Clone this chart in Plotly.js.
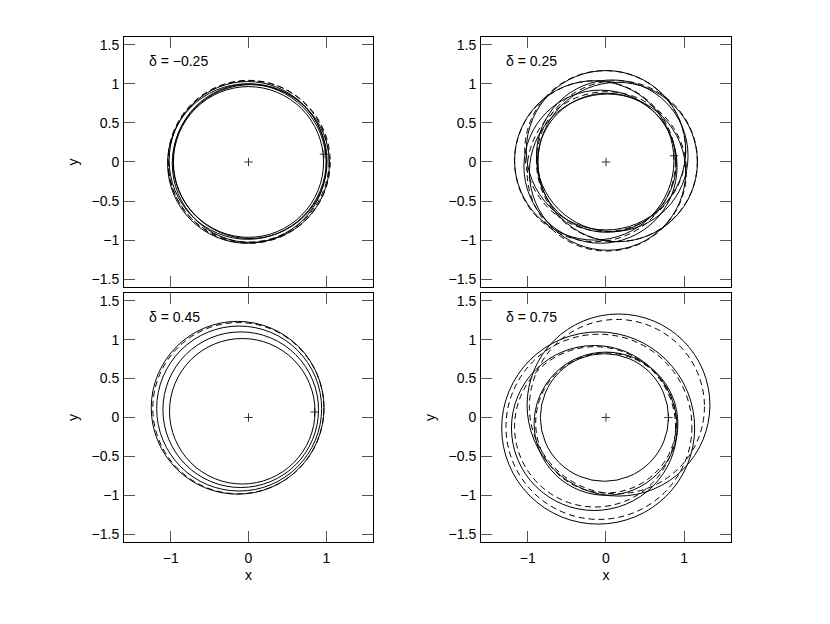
<!DOCTYPE html>
<html>
<head>
<meta charset="utf-8">
<script src="https://cdn.plot.ly/plotly-3.0.1.min.js"></script>
<style>
  html, body {margin: 0; padding: 0; background: #fff;}
  #plot {width: 830px; height: 624px;}
</style>
</head>
<body>
<div id="plot"></div>
<script>
// panel labels and start points
const deltas = [-0.25, 0.25, 0.45, 0.75];
const startX = [0.97, 0.87, 0.85, 0.80];
const startY = [0.10, 0.08, 0.07, 0.00];

// orbit loops: centre x, centre y, radius
// panel 1, delta = -0.25
const solid1X = [0.00, 0.02, -0.01, 0.03, -0.02];
const solid1Y = [0.00, 0.01, 0.02, -0.02, -0.02];
const solid1R = [0.965, 0.99, 1.01, 1.01, 1.02];
const dash1X = [0.01, 0.00];
const dash1Y = [0.00, 0.01];
const dash1R = [1.04, 1.035];

// panel 2, delta = 0.25
const solid2X = [0.15, 0.00, -0.15, 0.02, 0.08, -0.07, 0.01];
const solid2Y = [0.00, 0.15, 0.02, -0.13, 0.08, -0.06, -0.01];
const solid2R = [1.02, 1.02, 1.02, 1.00, 0.97, 0.98, 0.89];
const dash2X = [0.14, -0.01, -0.14, 0.01];
const dash2Y = [0.01, 0.14, 0.01, -0.12];
const dash2R = [1.03, 1.03, 1.03, 1.02];

// panel 3, delta = 0.45
const solid3X = [-0.08, -0.10, -0.12, -0.14];
const solid3Y = [0.08, 0.10, 0.115, 0.125];
const solid3R = [0.935, 1.00, 1.06, 1.11];
const dash3X = [-0.13];
const dash3Y = [0.12];
const dash3R = [1.10];

// panel 4, delta = 0.75
const solid4X = [-0.02, 0.00, -0.15, 0.16, -0.10];
const solid4Y = [0.00, -0.08, -0.135, 0.16, -0.135];
const solid4R = [0.82, 0.92, 1.06, 1.17, 1.235];
const dash4X = [0.00, -0.14, 0.14, -0.09];
const dash4Y = [-0.07, -0.12, 0.14, -0.12];
const dash4R = [0.90, 1.03, 1.12, 1.19];

const solidSets = [[solid1X, solid1Y, solid1R], [solid2X, solid2Y, solid2R],
                   [solid3X, solid3Y, solid3R], [solid4X, solid4Y, solid4R]];
const dashSets = [[dash1X, dash1Y, dash1R], [dash2X, dash2Y, dash2R],
                  [dash3X, dash3Y, dash3R], [dash4X, dash4Y, dash4R]];

const axisFont = {family: 'Liberation Sans, Arial, sans-serif', size: 14, color: '#000'};

function make_axis(domain, letter, showLabels, title){
    let ax = {
        domain: domain,
        range: [-1.6, 1.6],
        showgrid: false,
        zeroline: false,
        showline: true,
        linecolor: '#000',
        linewidth: 1,
        mirror: 'allticks',
        ticks: 'inside',
        ticklen: 11,
        tickwidth: 1,
        tickcolor: '#555',
        tickmode: 'array',
        tickvals: letter == 'x' ? [-1, 0, 1] : [-1.5, -1, -0.5, 0, 0.5, 1, 1.5],
        ticktext: letter == 'x' ? ['\u22121', '0', '1'] : ['\u22121.5', '\u22121', '\u22120.5', '0', '0.5', '1', '1.5'],
        showticklabels: showLabels,
        tickfont: axisFont,
        ticklabelstandoff: letter == 'x' ? 3 : 1,
        fixedrange: true
    };
    if (title) {
        ax.title = {text: title, font: axisFont, standoff: letter == 'x' ? 5 : 9};
    }
    return ax;
}

const xDom = [[0, 0.4102], [0.5881, 1], [0, 0.4102], [0.5881, 1]];
const yDom = [[0.505, 1], [0.505, 1], [0, 0.4931], [0, 0.4931]];
const xTitles = [null, null, 'x', 'x'];
const yTitles = ['y', null, 'y', 'y'];

var layout = {
    width: 830,
    height: 624,
    margin: {l: 124, r: 99, t: 37, b: 82},
    paper_bgcolor: '#fff',
    plot_bgcolor: '#fff',
    showlegend: false,
    font: axisFont,
    shapes: [],
    annotations: []
};

var data = [];

for (let i = 0; i < 4; i++) {
    let n = i == 0 ? '' : String(i + 1);
    let xr = 'x' + n, yr = 'y' + n;
    layout['xaxis' + n] = make_axis(xDom[i], 'x', i >= 2, xTitles[i]);
    layout['yaxis' + n] = make_axis(yDom[i], 'y', true, yTitles[i]);
    layout['xaxis' + n].anchor = yr;
    layout['yaxis' + n].anchor = xr;

    // loops as circles in data space
    let s = solidSets[i];
    for (let k = 0; k < s[0].length; k++) {
        layout.shapes.push({type: 'circle', xref: xr, yref: yr,
            x0: s[0][k] - s[2][k], x1: s[0][k] + s[2][k],
            y0: s[1][k] - s[2][k], y1: s[1][k] + s[2][k],
            line: {color: '#000', width: 1}});
    }
    let d = dashSets[i];
    for (let k = 0; k < d[0].length; k++) {
        layout.shapes.push({type: 'circle', xref: xr, yref: yr,
            x0: d[0][k] - d[2][k], x1: d[0][k] + d[2][k],
            y0: d[1][k] - d[2][k], y1: d[1][k] + d[2][k],
            line: {color: '#000', width: 1, dash: '6px,4px'}});
    }

    // centre and starting point
    data.push({
        x: [0, startX[i]],
        y: [0, startY[i]],
        xaxis: xr,
        yaxis: yr,
        type: 'scatter',
        mode: 'markers',
        hoverinfo: 'skip',
        marker: {symbol: 'cross-thin', size: 6, line: {width: 1, color: '#333'}}
    });

    let txt = '\u03b4 = ' + (deltas[i] < 0 ? '\u2212' + Math.abs(deltas[i]).toFixed(2) : deltas[i].toFixed(2));
    layout.annotations.push({
        text: txt,
        xref: xr + ' domain', yref: yr + ' domain',
        x: 0.093, y: 0.905,
        xanchor: 'left', yanchor: 'middle',
        showarrow: false,
        font: axisFont
    });
}

Plotly.newPlot('plot', data, layout, {displayModeBar: false, staticPlot: true});
</script>
</body>
</html>
